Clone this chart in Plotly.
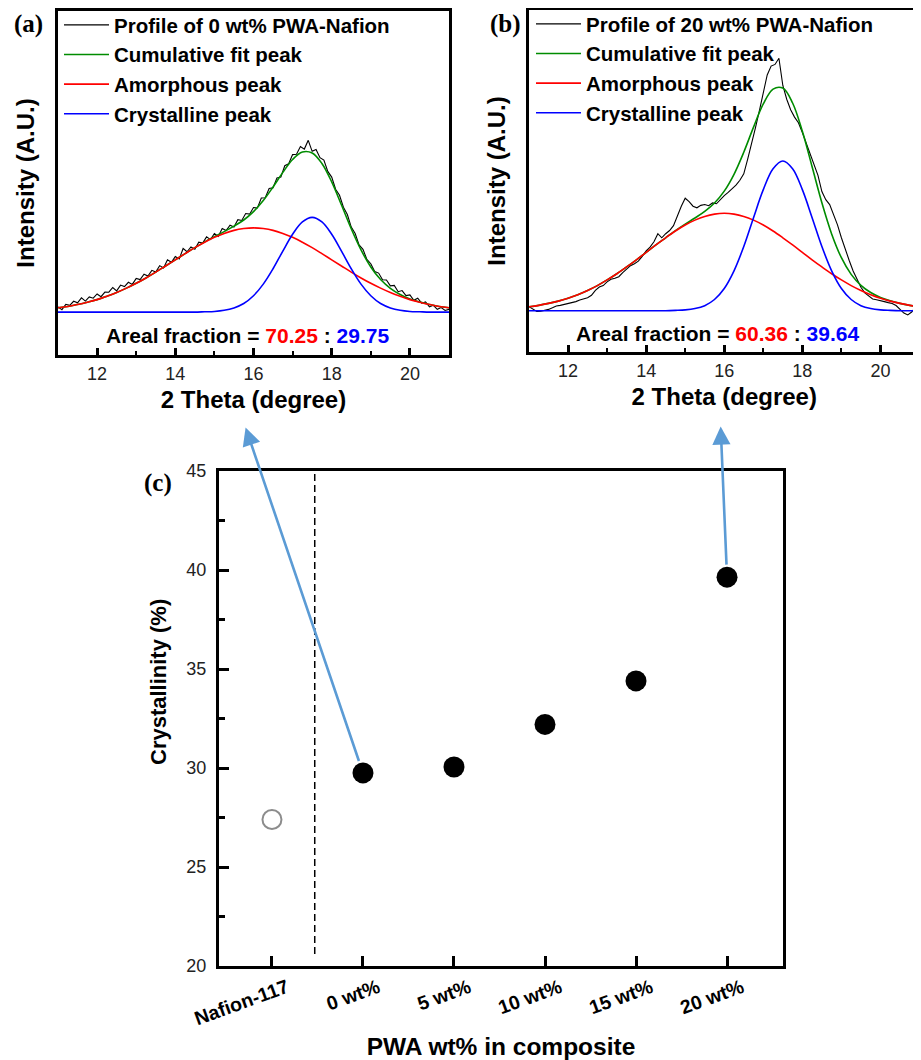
import plotly.graph_objects as go

# ---------------- data ----------------
theta_fit = [11.0, 11.25, 11.5, 11.75, 12.0, 12.25, 12.5, 12.75, 13.0, 13.25, 13.5, 13.75,
             14.0, 14.25, 14.5, 14.75, 15.0, 15.25, 15.5, 15.75, 16.0, 16.25, 16.5, 16.75,
             17.0, 17.25, 17.5, 17.75, 18.0, 18.25, 18.5, 18.75, 19.0, 19.25, 19.5, 19.75,
             20.0, 20.25, 20.5, 20.75, 21.0]

theta_profile = [11.0, 11.1, 11.2, 11.3, 11.4, 11.5, 11.6, 11.7, 11.8, 11.9,
                 12.0, 12.1, 12.2, 12.3, 12.4, 12.5, 12.6, 12.7, 12.8, 12.9,
                 13.0, 13.1, 13.2, 13.3, 13.4, 13.5, 13.6, 13.7, 13.8, 13.9,
                 14.0, 14.1, 14.2, 14.3, 14.4, 14.5, 14.6, 14.7, 14.8, 14.9,
                 15.0, 15.1, 15.2, 15.3, 15.4, 15.5, 15.6, 15.7, 15.8, 15.9,
                 16.0, 16.1, 16.2, 16.3, 16.4, 16.5, 16.6, 16.7, 16.8, 16.9,
                 17.0, 17.1, 17.2, 17.3, 17.4, 17.5, 17.6, 17.7, 17.8, 17.9,
                 18.0, 18.1, 18.2, 18.3, 18.4, 18.5, 18.6, 18.7, 18.8, 18.9,
                 19.0, 19.1, 19.2, 19.3, 19.4, 19.5, 19.6, 19.7, 19.8, 19.9,
                 20.0, 20.1, 20.2, 20.3, 20.4, 20.5, 20.6, 20.7, 20.8, 20.9,
                 21.0]

# (a) 0 wt% PWA-Nafion
profile_a = [3.2, 1.5, 4.8, 4.2, 6.7, 5.7, 8.8, 6.8, 9.4, 8.6,
             11.2, 9.5, 12.4, 12.3, 15.2, 13.1, 16.7, 15.8, 18.4, 17.1,
             20.8, 20.1, 23.4, 22.3, 25.8, 24.7, 28.7, 27.2, 32.3, 30.8,
             34.3, 32.8, 39.3, 37.3, 40.3, 38.8, 43.2, 42.7, 46.5, 44.8,
             48.6, 46.8, 51.6, 50.4, 53.7, 52.6, 57.1, 56.6, 60.9, 60.5,
             64.6, 64.3, 70.5, 70.6, 76.4, 76.8, 82.9, 83.5, 90.4, 91.6,
             97.3, 97.5, 102.3, 100.7, 106.1, 99.3, 100.5, 95.4, 93.9, 86.9,
             83.4, 75.9, 72.2, 64.8, 60.3, 52.5, 48.5, 41.5, 38.8, 32.5,
             29.9, 25.1, 24.1, 20.0, 19.8, 16.2, 16.5, 12.6, 13.3, 10.2,
             10.6, 7.3, 8.6, 5.5, 6.3, 3.2, 4.2, 1.7, 2.8, 1.0,
             1.7]
cumulative_a = [2.7, 3.5, 4.7, 6.1, 7.7, 9.8, 12.1, 14.8, 17.8, 21.1, 24.7, 28.5,
                32.3, 36.1, 39.8, 43.4, 46.6, 49.7, 53.1, 56.9, 62.1, 68.9, 77.3, 86.3,
                94.3, 98.9, 98.3, 91.8, 80.4, 66.2, 51.5, 38.4, 27.9, 20.1, 14.7, 10.9,
                8.1, 6.3, 4.7, 3.5, 2.7]
amorphous_a = [2.7, 3.5, 4.7, 6.1, 7.7, 9.8, 12.1, 14.8, 17.8, 21.1, 24.7, 28.5,
               32.3, 36.1, 39.8, 43.2, 46.2, 48.6, 50.5, 51.6, 52.0, 51.6, 50.5, 48.6,
               46.2, 43.2, 39.8, 36.1, 32.3, 28.5, 24.7, 21.1, 17.8, 14.8, 12.1, 9.8,
               7.7, 6.1, 4.7, 3.5, 2.7]
crystalline_a = [0, 0, 0, 0, 0, 0, 0, 0, 0, 0, 0, 0, 0, 0, 0,
                 0.2, 0.4, 1.1, 2.6, 5.3, 10.1, 17.3, 26.8, 37.7, 48.1, 55.7, 58.5,
                 55.7, 48.1, 37.7, 26.8, 17.3, 10.1, 5.3, 2.6, 1.1, 0.4, 0.2,
                 0, 0, 0]

# (b) 20 wt% PWA-Nafion
profile_b = [2.5, 1.0, -0.5, -0.3, 0.2, 0.8, 1.8, 2.9, 3.3, 3.8,
             4.3, 5.2, 5.6, 6.6, 7.5, 8.0, 9.5, 12.5, 14.6, 15.5,
             17.8, 19.4, 20.0, 21.0, 23.5, 25.6, 27.8, 29.0, 30.6, 33.5,
             37.0, 39.2, 42.5, 47.5, 45.0, 47.5, 49.5, 52.5, 59.0, 64.5,
             69.4, 67.3, 64.5, 63.5, 65.0, 65.5, 64.8, 66.5, 66.0, 68.8,
             71.0, 73.0, 75.3, 77.5, 80.5, 84.5, 93.5, 102.5, 113.0, 123.5,
             134.0, 145.5, 151.0, 152.0, 155.8, 139.0, 130.5, 124.0, 119.5, 116.0,
             110.0, 103.5, 97.0, 90.5, 83.5, 73.5, 68.5, 65.5, 59.0, 53.0,
             45.0, 37.5, 31.0, 24.5, 19.0, 14.5, 11.0, 9.0, 7.2, 6.8,
             6.0, 5.6, 5.0, 4.5, 3.2, 1.0, -1.5, -2.6, -0.8, 2.0,
             4.0]
cumulative_b = [2.4, 3.3, 4.5, 5.9, 7.7, 9.9, 12.5, 15.5, 19.0, 22.8, 27.0, 31.4,
                36.0, 40.6, 45.0, 49.4, 53.4, 57.2, 61.3, 66.5, 73.8, 84.2, 97.8, 113.3,
                127.6, 136.8, 137.4, 128.2, 110.7, 88.8, 66.6, 47.4, 32.7, 22.4, 15.6, 11.2,
                8.2, 6.1, 4.5, 3.3, 2.4]
amorphous_b = [2.4, 3.3, 4.5, 5.9, 7.7, 9.9, 12.5, 15.5, 19.0, 22.8, 27.0, 31.4,
               36.0, 40.6, 45.0, 49.2, 52.9, 55.9, 58.2, 59.6, 60.1, 59.6, 58.2, 55.9,
               52.9, 49.2, 45.0, 40.6, 36.0, 31.4, 27.0, 22.8, 19.0, 15.5, 12.5, 9.9,
               7.7, 5.9, 4.5, 3.3, 2.4]
crystalline_b = [0, 0, 0, 0, 0, 0, 0, 0, 0, 0, 0, 0, 0, 0, 0,
                 0.2, 0.5, 1.3, 3.1, 6.9, 13.7, 24.6, 39.6, 57.4, 74.7, 87.6, 92.4,
                 87.6, 74.7, 57.4, 39.6, 24.6, 13.7, 6.9, 3.1, 1.3, 0.5, 0.2,
                 0, 0, 0]

areal_a = ("70.25", "29.75")
areal_b = ("60.36", "39.64")

# (c) crystallinity
sample_labels = ["Nafion-117", "0 wt%", "5 wt%", "10 wt%", "15 wt%", "20 wt%"]
sample_pos = [0, 1, 2, 3, 4, 5]
crystallinity_nafion = [27.4]
crystallinity_composite = [29.75, 30.05, 32.2, 34.4, 39.64]

# ---------------- styles ----------------
FONT = "Liberation Sans, Arial, sans-serif"
SERIF = "Liberation Serif, Times New Roman, serif"
C_GREEN = "rgb(0,140,0)"
C_RED = "rgb(255,0,0)"
C_BLUE = "rgb(0,0,255)"
C_ARROW = "#5B9BD5"
OFF = 8                      # page body margin of the html page
W, H = 921 - OFF, 1060 - OFF

fig = go.Figure()

def add_xrd(xaxis, yaxis, legend, label, prof, cum, amo, cry):
    fig.add_trace(go.Scatter(x=theta_profile, y=prof, mode="lines", name=f"Profile of {label} PWA-Nafion",
                             line=dict(color="black", width=1.1), xaxis=xaxis, yaxis=yaxis, legend=legend))
    fig.add_trace(go.Scatter(x=theta_fit, y=cum, mode="lines", name="Cumulative fit peak", line_shape="spline",
                             line=dict(color=C_GREEN, width=1.6), xaxis=xaxis, yaxis=yaxis, legend=legend))
    fig.add_trace(go.Scatter(x=theta_fit, y=amo, mode="lines", name="Amorphous peak", line_shape="spline",
                             line=dict(color=C_RED, width=1.6), xaxis=xaxis, yaxis=yaxis, legend=legend))
    fig.add_trace(go.Scatter(x=theta_fit, y=cry, mode="lines", name="Crystalline peak", line_shape="spline",
                             line=dict(color=C_BLUE, width=1.6), xaxis=xaxis, yaxis=yaxis, legend=legend))

add_xrd("x", "y", "legend", "0 wt%", profile_a, cumulative_a, amorphous_a, crystalline_a)
add_xrd("x2", "y2", "legend2", "20 wt%", profile_b, cumulative_b, amorphous_b, crystalline_b)

fig.add_trace(go.Scatter(x=sample_pos[:1], y=crystallinity_nafion, mode="markers", showlegend=False,
                         marker=dict(symbol="circle-open", size=19, color="#8c8c8c", line=dict(width=2)),
                         xaxis="x3", yaxis="y3"))
fig.add_trace(go.Scatter(x=sample_pos[1:], y=crystallinity_composite, mode="markers", showlegend=False,
                         marker=dict(symbol="circle", size=21, color="black"),
                         xaxis="x3", yaxis="y3"))

def px_x(p):
    return (p - OFF) / W

def px_y(p):
    return 1 - (p - OFF) / H

xrd_x = dict(range=[11, 21], dtick=2, tick0=0, ticks="inside", ticklen=7, tickwidth=2.5, tickcolor="black",
             showline=True, linewidth=2.5, linecolor="black", mirror=True, showgrid=False, zeroline=False,
             automargin=False,
             tickfont=dict(family=FONT, size=18, color="#222"), ticklabelstandoff=1,
             minor=dict(dtick=1, ticks="inside", ticklen=4, tickwidth=2, tickcolor="black"),
             title=dict(text="2 Theta (degree)", font=dict(family=FONT, size=24, weight="bold", color="black"),
                        standoff=8))
xrd_y = dict(showline=True, linewidth=2.5, linecolor="black", mirror=True, showgrid=False, zeroline=False,
             ticks="", showticklabels=False, automargin=False,
             title=dict(text="Intensity (A.U.)", font=dict(family=FONT, size=24, weight="bold", color="black"),
                        standoff=14))

legend_common = dict(xanchor="left", yanchor="top", bgcolor="rgba(0,0,0,0)",
                     font=dict(family=FONT, size=20.5, weight="bold", color="black"),
                     itemwidth=45, tracegroupgap=0)

fig.update_layout(
    width=W, height=H, margin=dict(l=0, r=0, t=0, b=0, autoexpand=False),
    paper_bgcolor="white", plot_bgcolor="white",
    xaxis=dict(domain=[px_x(58), px_x(449)], anchor="y", **xrd_x),
    yaxis=dict(domain=[px_y(355), px_y(11)], anchor="x", range=[-26.5, 186], **xrd_y),
    xaxis2=dict(domain=[px_x(529), px_x(919.5)], anchor="y2", **xrd_x),
    yaxis2=dict(domain=[px_y(352), px_y(10)], anchor="x2", range=[-25.5, 185.6], **xrd_y),
    xaxis3=dict(domain=[px_x(219), px_x(783)], anchor="y3", range=[-0.582, 5.615],
                tickvals=sample_pos, ticktext=sample_labels, tickangle=-20,
                ticks="inside", ticklen=10, tickwidth=2.5, tickcolor="black",
                showline=True, linewidth=3, linecolor="black", mirror=True, showgrid=False, zeroline=False,
                automargin=False,
                tickfont=dict(family=FONT, size=19.5, weight="bold", color="black"), ticklabelshift=15,
                title=dict(text="PWA wt% in composite", font=dict(family=FONT, size=24.5, weight="bold", color="black"),
                           standoff=10)),
    yaxis3=dict(domain=[px_y(966), px_y(471)], anchor="x3", range=[20, 45], dtick=5, tick0=20,
                ticks="inside", ticklen=10, tickwidth=2.5, tickcolor="black",
                minor=dict(dtick=2.5, ticks="inside", ticklen=6, tickwidth=2.5, tickcolor="black"),
                showline=True, linewidth=3, linecolor="black", mirror=True, showgrid=False, zeroline=False,
                automargin=False,
                tickfont=dict(family=FONT, size=18, color="#222"), ticklabelstandoff=6),
    legend=dict(x=px_x(59), y=px_y(5), **legend_common),
    legend2=dict(x=px_x(531), y=px_y(4), **legend_common),
    showlegend=True,
)

# dashed separator in (c)
fig.add_shape(type="line", xref="x3", yref="y3", x0=0.47, x1=0.47, y0=20.6, y1=45,
              line=dict(color="black", width=1.5, dash="7px,4px"))

ann_font = dict(family=FONT, size=21, weight="bold", color="black")
fig.add_annotation(xref="x", yref="y", x=15.85, y=-14.2, showarrow=False, font=ann_font,
                   text=f"Areal fraction = <span style='color:{C_RED}'>{areal_a[0]}</span> : "
                        f"<span style='color:{C_BLUE}'>{areal_a[1]}</span>")
fig.add_annotation(xref="x2", yref="y2", x=15.82, y=-13.8, showarrow=False, font=ann_font,
                   text=f"Areal fraction = <span style='color:{C_RED}'>{areal_b[0]}</span> : "
                        f"<span style='color:{C_BLUE}'>{areal_b[1]}</span>")

# panel labels
lab_font = dict(family=SERIF, size=25, weight="bold", color="black")
for t, x, y in [("(a)", 28, 24), ("(b)", 506, 24), ("(c)", 158, 483)]:
    fig.add_annotation(xref="paper", yref="paper", x=px_x(x), y=px_y(y), text=t, showarrow=False,
                       font=lab_font, xanchor="center", yanchor="middle")

# y title of (c)
fig.add_annotation(xref="paper", yref="paper", x=px_x(158), y=px_y(682), text="Crystallinity (%)",
                   textangle=-90, showarrow=False, xanchor="center", yanchor="middle",
                   font=dict(family=FONT, size=22, weight="bold", color="black"))

# arrows from data points to the XRD panels
fig.add_annotation(xref="x3", yref="y3", axref="x3", ayref="y3",
                   x=-0.29, y=47.2, ax=sample_pos[1], ay=crystallinity_composite[0],
                   text="", showarrow=True, arrowhead=2, arrowsize=1.4, arrowwidth=2.6,
                   arrowcolor=C_ARROW, startstandoff=11, standoff=0)
fig.add_annotation(xref="x3", yref="y3", axref="x3", ayref="y3",
                   x=4.93, y=47.25, ax=sample_pos[5], ay=crystallinity_composite[4],
                   text="", showarrow=True, arrowhead=2, arrowsize=1.4, arrowwidth=2.6,
                   arrowcolor=C_ARROW, startstandoff=11, standoff=0)

fig.write_html("out.html")
